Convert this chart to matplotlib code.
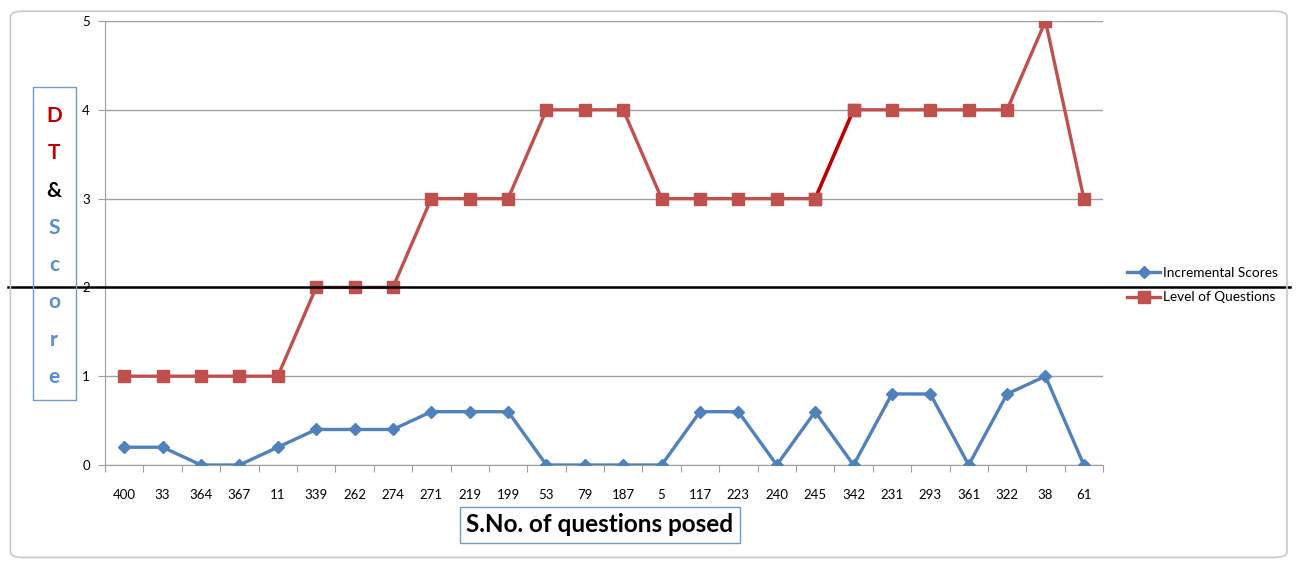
import matplotlib.pyplot as plt
import matplotlib.transforms as mtransforms
from matplotlib.patches import FancyBboxPatch

# question serial numbers (x categories)
questions = ["400", "33", "364", "367", "11", "339", "262", "274", "271", "219",
             "199", "53", "79", "187", "5", "117", "223", "240", "245", "342",
             "231", "293", "361", "322", "38", "61"]
incremental_scores = [0.2, 0.2, 0, 0, 0.2, 0.4, 0.4, 0.4, 0.6, 0.6,
                      0.6, 0, 0, 0, 0, 0.6, 0.6, 0, 0.6, 0,
                      0.8, 0.8, 0, 0.8, 1, 0]
level_of_questions = [1, 1, 1, 1, 1, 2, 2, 2, 3, 3,
                      3, 4, 4, 4, 3, 3, 3, 3, 3, 4,
                      4, 4, 4, 4, 5, 3]
highlight_segment = (18, 19)  # 245 -> 342 drawn darker

plt.rcParams['font.family'] = ['Lato', 'DejaVu Sans']

blue = '#4F81BD'
red = '#C0504D'
dark_red = '#C00000'

fig = plt.figure(figsize=(13, 5.62), dpi=100)
ax = fig.add_axes([0.0808, 0.1726, 0.7677, 0.79])

# chart area frame
fig.patches.append(FancyBboxPatch((0.008, 0.008), 0.982, 0.972, boxstyle="round,pad=0,rounding_size=0.01",
                                  transform=fig.transFigure, fill=False, edgecolor='#C8C8C8', lw=1.2))

x = list(range(len(questions)))
ax.plot(x, incremental_scores, color=blue, lw=2.4, marker='D', markersize=6,
        label='Incremental Scores', zorder=3)
ax.plot(x, level_of_questions, color=red, lw=2.4, marker='s', markersize=8.5,
        label='Level of Questions', zorder=3)
i0, i1 = highlight_segment
ax.plot(x[i0:i1 + 1], level_of_questions[i0:i1 + 1], color=dark_red, lw=2.4, zorder=3.1,
        marker='s', markersize=8.5, markerfacecolor=red, markeredgecolor=red)

ax.set_xlim(-0.5, len(questions) - 0.5)
ax.set_ylim(0, 5)
ax.set_yticks(range(6))
ax.yaxis.grid(True, color='#A0A0A0', lw=1)
ax.set_axisbelow(True)
ax.set_xticks([i - 0.5 for i in range(len(questions) + 1)])
ax.set_xticklabels([])
ax.set_xticks(x, minor=True)
ax.set_xticklabels(questions, minor=True, fontsize=9.5)
ax.tick_params(axis='x', which='minor', length=0, pad=17)
ax.tick_params(axis='x', which='major', length=5, color='#A0A0A0')
ax.tick_params(axis='y', length=5, color='#A0A0A0', labelsize=9.5, pad=6)
for s in ['top', 'right']:
    ax.spines[s].set_visible(False)
for s in ['left', 'bottom']:
    ax.spines[s].set_color('#A0A0A0')

# black line across whole figure at y = 2
trans = mtransforms.blended_transform_factory(fig.transFigure, ax.transData)
ax.plot([0.006, 0.992], [2, 2], color='black', lw=1.8, transform=trans, clip_on=False, zorder=5)

# y label box with coloured letters
fig.patches.append(plt.Rectangle((0.0254, 1 - 400 / 562), 0.0331, 313 / 562, transform=fig.transFigure,
                                 fill=False, edgecolor='#6F9BD0', lw=1))
letters = [('D', dark_red), ('T', dark_red), ('&', 'black'), ('S', '#558ED5'),
           ('c', '#558ED5'), ('o', '#558ED5'), ('r', '#558ED5'), ('e', '#558ED5')]
for k, (ch, col) in enumerate(letters):
    fig.text(0.0415, 1 - (116 + k * 37.3) / 562, ch, color=col, fontsize=15, fontweight='bold',
             ha='center', va='center')

# x label box
fig.text(0.4615, 1 - 525 / 562, 'S.No. of questions posed', fontsize=17.5, fontweight='bold',
         ha='center', va='center',
         bbox=dict(boxstyle='square,pad=0.25', fc='white', ec='#6F9BD0', lw=1))

ax.legend(loc='center left', bbox_to_anchor=(1.012, 0.405), frameon=False, fontsize=9.8,
          handlelength=2.4, labelspacing=0.9, handletextpad=0.2)

fig.savefig('out.png', dpi=100)
